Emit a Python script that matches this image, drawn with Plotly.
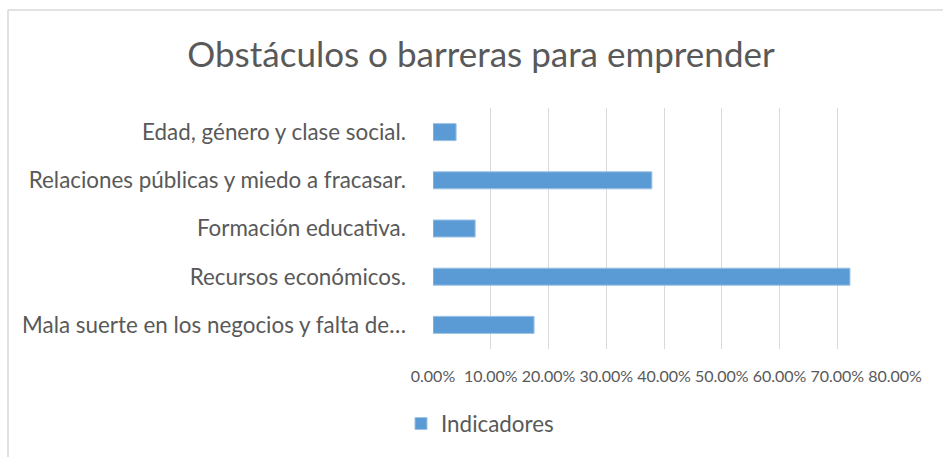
import plotly.graph_objects as go

categories = [
    "Mala suerte en los negocios y falta de…",
    "Recursos económicos.",
    "Formación educativa.",
    "Relaciones públicas y miedo a fracasar.",
    "Edad, género y clase social.",
]
values = [0.175, 0.722, 0.073, 0.379, 0.040]
tick_vals = [0, 0.1, 0.2, 0.3, 0.4, 0.5, 0.6, 0.7, 0.8]
tick_text = ["0.00%", "10.00%", "20.00%", "30.00%", "40.00%", "50.00%", "60.00%", "70.00%", "80.00%"]
series_name = "Indicadores"
title_text = "Obstáculos o barreras para emprender"

W, H = 943, 457
L, R, T, B = 433, 48, 108, 108
pw, ph = W - L - R, H - T - B

FONT = "Lato"
GRAY = "#595959"

fig = go.Figure()
fig.add_trace(go.Bar(
    y=categories, x=values, orientation="h", name=series_name,
    marker=dict(color="#5b9bd5", line=dict(color="#9dc3e6", width=1)),
    showlegend=True,
))

fig.update_layout(
    width=W, height=H,
    margin=dict(l=L, r=R, t=T, b=B),
    paper_bgcolor="white", plot_bgcolor="white",
    bargap=0.646,
    title=dict(text=title_text, x=481 / W, xanchor="center", y=1 - 55 / H, yanchor="middle",
               font=dict(family=FONT, size=35, color=GRAY)),
    font=dict(family=FONT, color=GRAY),
    xaxis=dict(range=[0, 0.8], tickvals=tick_vals, ticktext=tick_text,
               showgrid=True, gridcolor="#d9d9d9", gridwidth=1.3,
               zeroline=False, showline=False, ticks="",
               tickfont=dict(family=FONT, size=16, color=GRAY), ticklabelstandoff=16),
    yaxis=dict(categoryorder="array", categoryarray=categories, showgrid=False,
               zeroline=False, showline=False, ticks="",
               tickfont=dict(family=FONT, size=22.4, color=GRAY), ticklabelstandoff=26),
    legend=dict(orientation="h", x=(441 - 40 - L) / pw, xanchor="left",
                y=(H - B - 424) / ph, yanchor="middle",
                font=dict(family=FONT, size=22.4, color=GRAY)),
    shapes=[
        dict(type="line", xref="paper", yref="paper",
             x0=(8 - L) / pw, x1=(8 - L) / pw, y0=(H - B - 10) / ph, y1=(H - B - 470) / ph,
             line=dict(color="#d9d9d9", width=1.5)),
        dict(type="line", xref="paper", yref="paper",
             x0=(8 - L) / pw, x1=(960 - L) / pw, y0=(H - B - 10) / ph, y1=(H - B - 10) / ph,
             line=dict(color="#d9d9d9", width=1.5)),
    ],
)

fig.write_html("out.html", post_script="document.body.style.margin='0';",
               config={"displayModeBar": False})
